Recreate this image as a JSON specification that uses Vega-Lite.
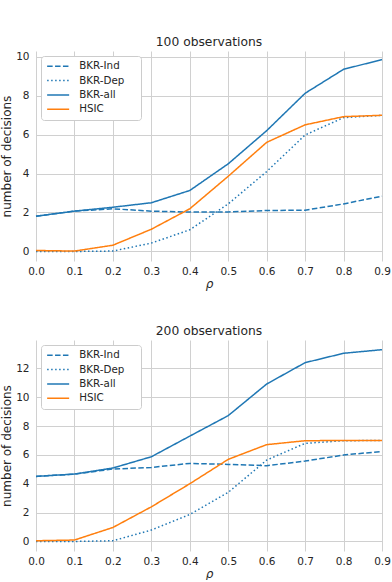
{
  "$schema": "https://vega.github.io/schema/vega-lite/v6.json",
  "padding": {"left": 0, "top": 35, "right": 3, "bottom": 0},
  "background": "white",
  "config": {
    "font": "DejaVu Sans",
    "view": {"stroke": null},
    "axis": {
      "domain": false,
      "ticks": false,
      "labelFlush": false,
      "gridColor": "#d0d0d0",
      "gridWidth": 1,
      "labelColor": "#262626",
      "labelFontSize": 10.5,
      "titleColor": "#262626",
      "titleFontSize": 12,
      "titleFontWeight": "normal"
    },
    "title": {"fontSize": 12.3, "fontWeight": "normal", "color": "#262626", "offset": 3},
    "legend": {
      "orient": "top-left",
      "offset": 5,
      "padding": 5,
      "rowPadding": 3.4,
      "strokeColor": "#cccccc",
      "fillColor": "white",
      "cornerRadius": 3,
      "labelFontSize": 10.3,
      "labelColor": "#262626",
      "labelOffset": 23,
      "symbolSize": 64,
      "symbolStrokeWidth": 1.5,
      "symbolType": "M-1,0H4.5",
      "titleOrient": "right",
      "titlePadding": 12,
      "titleFontSize": 10,
      "titleOpacity": 0
    }
  },
  "datasets": {
    "d100": [
      {"rho": 0.0, "series": "BKR-Ind", "value": 1.81},
      {"rho": 0.1, "series": "BKR-Ind", "value": 2.07},
      {"rho": 0.2, "series": "BKR-Ind", "value": 2.19},
      {"rho": 0.3, "series": "BKR-Ind", "value": 2.07},
      {"rho": 0.4, "series": "BKR-Ind", "value": 2.02},
      {"rho": 0.5, "series": "BKR-Ind", "value": 2.03},
      {"rho": 0.6, "series": "BKR-Ind", "value": 2.10},
      {"rho": 0.7, "series": "BKR-Ind", "value": 2.12},
      {"rho": 0.8, "series": "BKR-Ind", "value": 2.44},
      {"rho": 0.9, "series": "BKR-Ind", "value": 2.84},
      {"rho": 0.0, "series": "BKR-Dep", "value": 0.0},
      {"rho": 0.1, "series": "BKR-Dep", "value": 0.0},
      {"rho": 0.2, "series": "BKR-Dep", "value": 0.02},
      {"rho": 0.3, "series": "BKR-Dep", "value": 0.43},
      {"rho": 0.4, "series": "BKR-Dep", "value": 1.11},
      {"rho": 0.5, "series": "BKR-Dep", "value": 2.44},
      {"rho": 0.6, "series": "BKR-Dep", "value": 4.10},
      {"rho": 0.7, "series": "BKR-Dep", "value": 5.98},
      {"rho": 0.8, "series": "BKR-Dep", "value": 6.87},
      {"rho": 0.9, "series": "BKR-Dep", "value": 6.99},
      {"rho": 0.0, "series": "BKR-all", "value": 1.81},
      {"rho": 0.1, "series": "BKR-all", "value": 2.07},
      {"rho": 0.2, "series": "BKR-all", "value": 2.27},
      {"rho": 0.3, "series": "BKR-all", "value": 2.50},
      {"rho": 0.4, "series": "BKR-all", "value": 3.13},
      {"rho": 0.5, "series": "BKR-all", "value": 4.50},
      {"rho": 0.6, "series": "BKR-all", "value": 6.20},
      {"rho": 0.7, "series": "BKR-all", "value": 8.12},
      {"rho": 0.8, "series": "BKR-all", "value": 9.35},
      {"rho": 0.9, "series": "BKR-all", "value": 9.85},
      {"rho": 0.0, "series": "HSIC", "value": 0.05},
      {"rho": 0.1, "series": "HSIC", "value": 0.02},
      {"rho": 0.2, "series": "HSIC", "value": 0.32},
      {"rho": 0.3, "series": "HSIC", "value": 1.14},
      {"rho": 0.4, "series": "HSIC", "value": 2.19},
      {"rho": 0.5, "series": "HSIC", "value": 3.86},
      {"rho": 0.6, "series": "HSIC", "value": 5.60},
      {"rho": 0.7, "series": "HSIC", "value": 6.50},
      {"rho": 0.8, "series": "HSIC", "value": 6.92},
      {"rho": 0.9, "series": "HSIC", "value": 6.99}
    ],
    "d200": [
      {"rho": 0.0, "series": "BKR-Ind", "value": 4.51},
      {"rho": 0.1, "series": "BKR-Ind", "value": 4.67},
      {"rho": 0.2, "series": "BKR-Ind", "value": 5.02},
      {"rho": 0.3, "series": "BKR-Ind", "value": 5.13},
      {"rho": 0.4, "series": "BKR-Ind", "value": 5.41},
      {"rho": 0.5, "series": "BKR-Ind", "value": 5.34},
      {"rho": 0.6, "series": "BKR-Ind", "value": 5.25},
      {"rho": 0.7, "series": "BKR-Ind", "value": 5.57},
      {"rho": 0.8, "series": "BKR-Ind", "value": 5.99},
      {"rho": 0.9, "series": "BKR-Ind", "value": 6.24},
      {"rho": 0.0, "series": "BKR-Dep", "value": 0.0},
      {"rho": 0.1, "series": "BKR-Dep", "value": 0.0},
      {"rho": 0.2, "series": "BKR-Dep", "value": 0.05},
      {"rho": 0.3, "series": "BKR-Dep", "value": 0.79},
      {"rho": 0.4, "series": "BKR-Dep", "value": 1.87},
      {"rho": 0.5, "series": "BKR-Dep", "value": 3.40},
      {"rho": 0.6, "series": "BKR-Dep", "value": 5.64},
      {"rho": 0.7, "series": "BKR-Dep", "value": 6.80},
      {"rho": 0.8, "series": "BKR-Dep", "value": 6.98},
      {"rho": 0.9, "series": "BKR-Dep", "value": 7.0},
      {"rho": 0.0, "series": "BKR-all", "value": 4.51},
      {"rho": 0.1, "series": "BKR-all", "value": 4.67},
      {"rho": 0.2, "series": "BKR-all", "value": 5.09},
      {"rho": 0.3, "series": "BKR-all", "value": 5.87},
      {"rho": 0.4, "series": "BKR-all", "value": 7.30},
      {"rho": 0.5, "series": "BKR-all", "value": 8.72},
      {"rho": 0.6, "series": "BKR-all", "value": 10.91},
      {"rho": 0.7, "series": "BKR-all", "value": 12.39},
      {"rho": 0.8, "series": "BKR-all", "value": 13.04},
      {"rho": 0.9, "series": "BKR-all", "value": 13.29},
      {"rho": 0.0, "series": "HSIC", "value": 0.05},
      {"rho": 0.1, "series": "HSIC", "value": 0.10},
      {"rho": 0.2, "series": "HSIC", "value": 0.97},
      {"rho": 0.3, "series": "HSIC", "value": 2.40},
      {"rho": 0.4, "series": "HSIC", "value": 4.00},
      {"rho": 0.5, "series": "HSIC", "value": 5.69},
      {"rho": 0.6, "series": "HSIC", "value": 6.71},
      {"rho": 0.7, "series": "HSIC", "value": 6.98},
      {"rho": 0.8, "series": "HSIC", "value": 7.0},
      {"rho": 0.9, "series": "HSIC", "value": 7.0}
    ]
  },
  "bounds": "flush",
  "spacing": 79,
  "resolve": {"scale": {"y": "independent"}, "legend": {"color": "independent", "strokeDash": "independent"}},
  "vconcat": [
    {
      "title": "100 observations",
      "width": 346,
      "height": 210,
      "data": {"name": "d100"},
      "mark": {"type": "line", "strokeWidth": 1.5},
      "encoding": {
        "x": {"field": "rho", "type": "quantitative", "scale": {"domain": [0, 0.9], "nice": false, "zero": false},
              "axis": {"values": [0, 0.1, 0.2, 0.3, 0.4, 0.5, 0.6, 0.7, 0.8, 0.9], "format": ".1f", "labelPadding": 5, "title": "ρ", "titleFontStyle": "italic", "titlePadding": 2}},
        "y": {"field": "value", "type": "quantitative", "scale": {"domain": [-0.49, 10.29], "nice": false, "zero": false},
              "axis": {"values": [0, 2, 4, 6, 8, 10], "labelPadding": 7, "title": "number of decisions", "titlePadding": 2}},
        "color": {"field": "series", "type": "nominal", "scale": {"domain": ["BKR-Ind", "BKR-Dep", "BKR-all", "HSIC"], "range": ["#1f77b4", "#1f77b4", "#1f77b4", "#ff7f0e"]}, "legend": {"title": "\u00a0"}},
        "strokeDash": {"field": "series", "type": "nominal", "scale": {"domain": ["BKR-Ind", "BKR-Dep", "BKR-all", "HSIC"], "range": [[5.5, 2.4], [1.5, 2.5], [1, 0], [1, 0]]}, "legend": {"title": "\u00a0"}}
      }
    },
    {
      "title": "200 observations",
      "width": 346,
      "height": 211,
      "data": {"name": "d200"},
      "mark": {"type": "line", "strokeWidth": 1.5},
      "encoding": {
        "x": {"field": "rho", "type": "quantitative", "scale": {"domain": [0, 0.9], "nice": false, "zero": false},
              "axis": {"values": [0, 0.1, 0.2, 0.3, 0.4, 0.5, 0.6, 0.7, 0.8, 0.9], "format": ".1f", "labelPadding": 5, "title": "ρ", "titleFontStyle": "italic", "titlePadding": 2}},
        "y": {"field": "value", "type": "quantitative", "scale": {"domain": [-0.66, 13.96], "nice": false, "zero": false},
              "axis": {"values": [0, 2, 4, 6, 8, 10, 12], "labelPadding": 7, "title": "number of decisions", "titlePadding": 2}},
        "color": {"field": "series", "type": "nominal", "scale": {"domain": ["BKR-Ind", "BKR-Dep", "BKR-all", "HSIC"], "range": ["#1f77b4", "#1f77b4", "#1f77b4", "#ff7f0e"]}, "legend": {"title": "\u00a0"}},
        "strokeDash": {"field": "series", "type": "nominal", "scale": {"domain": ["BKR-Ind", "BKR-Dep", "BKR-all", "HSIC"], "range": [[5.5, 2.4], [1.5, 2.5], [1, 0], [1, 0]]}, "legend": {"title": "\u00a0"}}
      }
    }
  ]
}
